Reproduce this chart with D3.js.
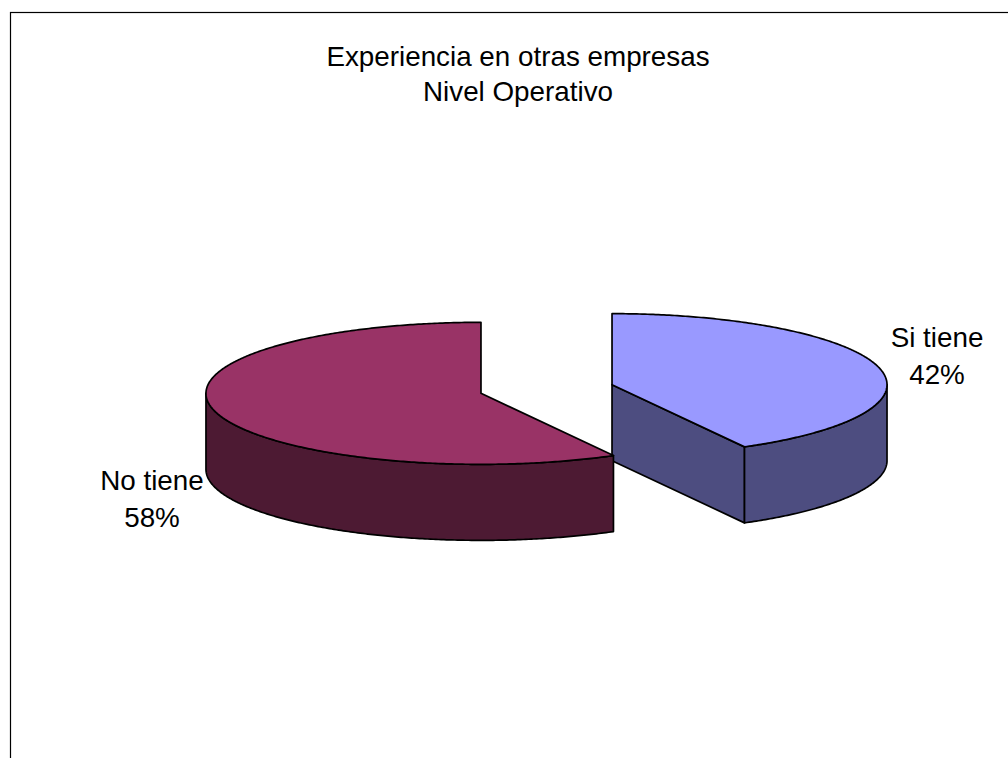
<!DOCTYPE html>
<html>
<head>
<meta charset="utf-8">
<script src="https://cdn.jsdelivr.net/npm/d3@7"></script>
<style>
  html, body { margin: 0; padding: 0; background: #ffffff; }
  svg { display: block; }
  text { font-family: "Liberation Sans", Arial, sans-serif; fill: #000; }
</style>
</head>
<body>
<script>
// ---- data ----
const categories = ["Si tiene", "No tiene"];
const values = [42, 58];
const percentLabels = ["42%", "58%"];
const titleLines = ["Experiencia en otras empresas", "Nivel Operativo"];
const topColors = ["#9999FF", "#993366"];
const sideColors = ["#4D4D80", "#4D1A33"];

// ---- layout ----
const W = 1008, H = 758;
const cx = 546.5, cy = 389;     // unexploded centre of top face
const rx = 275, ry = 71, depth = 76;
const explode = 0.246;
const fontSize = 27.8;

const svg = d3.select("body").append("svg").attr("width", W).attr("height", H);

// frame (extends past right and bottom edge)
svg.append("rect").attr("x", 10.5).attr("y", 12.5).attr("width", 1100).attr("height", 900)
  .attr("fill", "none").attr("stroke", "#000").attr("stroke-width", 1.2);

// title
const title = svg.append("text").attr("text-anchor", "middle").attr("font-size", fontSize);
titleLines.forEach((t, i) => {
  title.append("tspan").attr("x", 518).attr("y", 65.5 + i * 35).text(t);
});

const pie = d3.pie().sort(null).startAngle(0).endAngle(2 * Math.PI);
const arcs = pie(values);

function proj(c, a, dy) {
  return [c[0] + rx * Math.sin(a), c[1] - ry * Math.cos(a) + (dy || 0)];
}
function arcPts(c, a0, a1, dy) {
  const n = Math.max(2, Math.ceil(Math.abs(a1 - a0) / 0.01));
  return d3.range(n + 1).map(i => proj(c, a0 + (a1 - a0) * i / n, dy));
}
const line = d3.line().curve(d3.curveLinear);

const strokeW = 1.7;
const centres = arcs.map(d => {
  const mid = (d.startAngle + d.endAngle) / 2;
  return [cx + explode * rx * Math.sin(mid), cy - explode * ry * Math.cos(mid)];
});

// draw order: back to front (Si tiene first, then No tiene)
const g = svg.append("g");
arcs.forEach((d, i) => {
  const c = centres[i];
  const a0 = d.startAngle, a1 = d.endAngle;
  const sg = g.append("g");

  // radial faces
  [[a0, a0 - Math.PI / 2], [a1, a1 + Math.PI / 2]].forEach(([a, n]) => {
    if (-Math.cos(n) > 0.05) {
      const p = proj(c, a);
      const pts = [c, p, [p[0], p[1] + depth], [c[0], c[1] + depth]];
      sg.append("path").attr("d", line(pts) + "Z")
        .attr("fill", sideColors[i]).attr("stroke", "#000")
        .attr("stroke-width", strokeW).attr("stroke-linejoin", "round");
    }
  });

  // rim side (front half only)
  const s = Math.max(a0, Math.PI / 2), e = Math.min(a1, 3 * Math.PI / 2);
  if (e > s) {
    const top = arcPts(c, s, e, 0);
    const bot = arcPts(c, e, s, depth);
    sg.append("path").attr("d", line(top.concat(bot)) + "Z")
      .attr("fill", sideColors[i]).attr("stroke", "#000")
      .attr("stroke-width", strokeW).attr("stroke-linejoin", "round");
  }

  // top face
  const topPts = [c].concat(arcPts(c, a0, a1, 0));
  sg.append("path").attr("d", line(topPts) + "Z")
    .attr("fill", topColors[i]).attr("stroke", "#000")
    .attr("stroke-width", strokeW).attr("stroke-linejoin", "round");
});

// labels
const labelPos = [[937, 347], [152, 490]];
arcs.forEach((d, i) => {
  const t = svg.append("text").attr("text-anchor", "middle").attr("font-size", fontSize);
  t.append("tspan").attr("x", labelPos[i][0]).attr("y", labelPos[i][1]).text(categories[i]);
  t.append("tspan").attr("x", labelPos[i][0]).attr("y", labelPos[i][1] + 36.5).text(percentLabels[i]);
});
</script>
</body>
</html>
